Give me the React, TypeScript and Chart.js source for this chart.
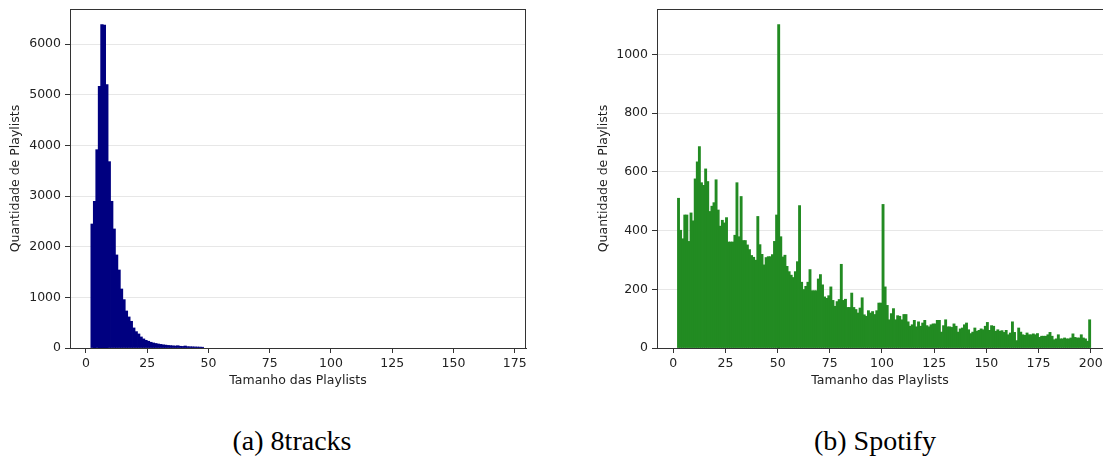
import React, { useEffect, useRef } from "react";
import { Chart, registerables } from "chart.js";

Chart.register(...registerables);

// ---------------- DATA ----------------
// 8tracks: playlist size bins start at 2, one bin per size
const tracksFirstSize = 2;
const tracksCounts = [
  2447, 2895, 3914, 5164, 6382, 6375, 5197, 3678, 2895, 2349,
  1836, 1539, 1164, 954, 730, 612, 526, 395, 322, 276,
  217, 178, 151, 132, 112, 98, 88, 78, 70, 62,
  56, 50, 46, 42, 38, 44, 33, 30, 38, 26,
  24, 22, 20, 18, 17, 14, 9, 8, 7, 6,
  5, 5, 4, 4, 3, 3, 3, 2, 2,
  2, 1, 2, 1, 1, 2, 1, 1, 0, 1,
  1, 1, 0, 1, 1, 0, 1, 1, 0, 1,
  0, 1, 1, 0, 0, 1, 0, 1, 0, 0,
  1, 0, 0, 1, 0, 0, 1, 0, 0, 0,
  1, 0, 0, 0, 1, 0, 0, 0, 0, 1,
  0, 0, 1, 0, 0, 0, 0, 1, 0, 0,
  0, 0, 1, 0, 0, 0, 0, 0, 1, 0,
  0, 0, 0, 0, 1, 0, 0, 0, 0, 0,
  0, 1, 0, 0, 0, 0, 0, 0, 0, 1,
  0, 0, 0, 0, 0, 0, 0, 0, 1, 0,
  0, 0, 0, 0, 0, 0, 0, 0, 0, 0,
  1,
];
const tracksXTicks = [0, 25, 50, 75, 100, 125, 150, 175];
const tracksYTicks = [0, 1000, 2000, 3000, 4000, 5000, 6000];

// Spotify: playlist size bins start at 2, one bin per size (2..199)
const spotifyFirstSize = 2;
const spotifyCounts = [
  510, 401, 372, 453, 453, 363, 460, 433, 576, 634,
  686, 563, 554, 610, 567, 465, 483, 495, 573, 470,
  415, 435, 426, 444, 361, 361, 361, 384, 563, 379,
  516, 366, 366, 351, 335, 315, 309, 299, 448, 352,
  319, 283, 308, 311, 311, 318, 363, 453, 1102, 379,
  310, 316, 278, 260, 248, 240, 260, 294, 485, 224,
  199, 210, 224, 267, 195, 195, 195, 235, 250, 215,
  174, 169, 178, 208, 162, 142, 158, 165, 285, 162,
  166, 138, 138, 187, 138, 131, 119, 136, 171, 113,
  108, 127, 119, 124, 114, 127, 153, 153, 489, 208,
  145, 96, 117, 134, 96, 110, 108, 96, 114, 114,
  89, 74, 79, 94, 72, 89, 74, 85, 94, 76,
  72, 79, 82, 82, 94, 94, 54, 76, 96, 72,
  72, 70, 82, 74, 54, 65, 68, 79, 85, 62,
  49, 54, 68, 57, 60, 65, 62, 74, 87, 60,
  76, 74, 57, 62, 57, 59, 53, 60, 45, 51,
  89, 53, 25, 68, 54, 45, 43, 51, 45, 45,
  48, 45, 49, 36, 40, 40, 40, 45, 53, 40,
  28, 31, 45, 31, 31, 34, 31, 31, 34, 48,
  36, 34, 34, 45, 34, 31, 23, 96,
];
const spotifyXTicks = [0, 25, 50, 75, 100, 125, 150, 175, 200];
const spotifyYTicks = [0, 200, 400, 600, 800, 1000];

const xTitle = "Tamanho das Playlists";
const yTitle = "Quantidade de Playlists";
const captionA = "(a) 8tracks";
const captionB = "(b) Spotify";

// ---------------- STYLE ----------------
const FONT = { family: "DejaVu Sans", size: 12.5 };
const TEXT = "#222222";
const SPINE = "#333333";
const GRID = "rgba(176,176,176,0.3)";

type Cfg = {
  counts: number[];
  first: number;
  xTicks: number[];
  yTicks: number[];
  color: string;
  xMin: number;
  xMax: number;
  yMax: number;
  yAxisWidth: number;
  yTitlePad: number;
  padRight: number;
  drawRightSpine: boolean;
};

const spinePlugin = (drawRight: boolean) => ({
  id: "spines",
  afterDraw(chart: any) {
    const { ctx, chartArea } = chart;
    const l = Math.round(chartArea.left) + 0.5;
    const r = Math.round(chartArea.right) - 0.5;
    const t = Math.round(chartArea.top) + 0.5;
    const b = Math.round(chartArea.bottom) + 0.5;
    ctx.save();
    ctx.strokeStyle = SPINE;
    ctx.lineWidth = 1;
    ctx.beginPath();
    ctx.moveTo(l, t);
    ctx.lineTo(chartArea.right, t);
    if (drawRight) {
      ctx.moveTo(r, t);
      ctx.lineTo(r, b);
    }
    ctx.stroke();
    ctx.restore();
  },
});

// bar pixel height (like raster snapping: sub-half-pixel bars are not painted)
const barPx = (c: any) => {
  const y = c.chart.scales.y;
  const v = c.raw ? c.raw.y : 0;
  return y.getPixelForValue(0) - y.getPixelForValue(v);
};

function Hist(props: { cfg: Cfg; left: number; width: number }) {
  const ref = useRef<HTMLCanvasElement | null>(null);
  const { cfg } = props;
  useEffect(() => {
    if (!ref.current) return;
    const points = cfg.counts.map((v, i) => ({ x: cfg.first + i + 0.5, y: v }));
    const chart = new Chart(ref.current, {
      type: "bar",
      data: {
        datasets: [
          {
            data: points as any,
            backgroundColor: (c: any) => (barPx(c) < 0.5 ? "rgba(0,0,0,0)" : cfg.color),
            borderWidth: 0,
            barPercentage: 1,
            categoryPercentage: 1,
            inflateAmount: (c: any) => (barPx(c) < 0.5 ? 0 : 0.4),
          } as any,
        ],
      },
      options: {
        animation: false,
        responsive: false,
        events: [],
        layout: { padding: { left: 0, top: 9, right: cfg.padRight, bottom: 0 } },
        plugins: { legend: { display: false }, tooltip: { enabled: false } },
        scales: {
          x: {
            type: "linear",
            min: cfg.xMin,
            max: cfg.xMax,
            offset: false,
            z: 1,
            afterBuildTicks(s: any) {
              s.ticks = cfg.xTicks.map((v) => ({ value: v }));
            },
            ticks: {
              autoSkip: false,
              maxRotation: 0,
              padding: 3,
              font: FONT,
              color: TEXT,
              callback: (v: any) => String(v),
            },
            grid: {
              drawOnChartArea: false,
              offset: false,
              tickLength: 5,
              tickColor: SPINE,
            },
            border: { display: true, color: SPINE, width: 1 },
            title: {
              display: true,
              text: xTitle,
              font: FONT,
              color: TEXT,
              padding: { top: 0, bottom: 11.5 },
            },
            afterFit(s: any) {
              s.height = 52;
              s.paddingLeft = 0;
              s.paddingRight = 0;
            },
          } as any,
          y: {
            type: "linear",
            min: 0,
            max: cfg.yMax,
            z: 1,
            afterBuildTicks(s: any) {
              s.ticks = cfg.yTicks.map((v) => ({ value: v }));
            },
            ticks: {
              autoSkip: false,
              padding: 4,
              font: FONT,
              color: TEXT,
              callback: (v: any) => String(v),
            },
            grid: {
              color: GRID,
              lineWidth: 1,
              tickLength: 5,
              tickColor: SPINE,
            },
            border: { display: true, color: SPINE, width: 1 },
            title: {
              display: true,
              text: yTitle,
              font: FONT,
              color: TEXT,
              padding: { top: cfg.yTitlePad, bottom: 0 },
            },
            afterFit(s: any) {
              s.width = cfg.yAxisWidth;
              s.paddingTop = 0;
              s.paddingBottom = 0;
            },
          } as any,
        },
      },
      plugins: [spinePlugin(cfg.drawRightSpine)],
    });
    return () => chart.destroy();
  }, []);
  return (
    <canvas
      ref={ref}
      width={props.width}
      height={400}
      style={{ position: "absolute", left: props.left, top: 0, width: props.width, height: 400, display: "block" }}
    />
  );
}

const tracksCfg: Cfg = {
  counts: tracksCounts,
  first: tracksFirstSize,
  xTicks: tracksXTicks,
  yTicks: tracksYTicks,
  color: "#000080",
  xMin: -6.53,
  xMax: 179.6,
  yMax: 6693,
  yAxisWidth: 70,
  yTitlePad: 8.5,
  padRight: 14,
  drawRightSpine: true,
};

const spotifyCfg: Cfg = {
  counts: spotifyCounts,
  first: spotifyFirstSize,
  xTicks: spotifyXTicks,
  yTicks: spotifyYTicks,
  color: "#228B22",
  xMin: -7.81,
  xMax: 205.9,
  yMax: 1155,
  yAxisWidth: 67,
  yTitlePad: 6.5,
  padRight: 0,
  drawRightSpine: false,
};

const captionStyle: React.CSSProperties = {
  position: "absolute",
  top: 426.5,
  fontFamily: "'Liberation Serif', serif",
  fontSize: 28,
  lineHeight: "28px",
  color: "#000",
  whiteSpace: "nowrap",
  transform: "translateX(-50%)",
};

export default function App() {
  return (
    <div style={{ position: "absolute", left: 0, top: 0, width: 1103, height: 456, overflow: "hidden", background: "#fff" }}>
      <Hist cfg={tracksCfg} left={0} width={540} />
      <Hist cfg={spotifyCfg} left={590} width={513} />
      <div style={{ ...captionStyle, left: 292 }}>{captionA}</div>
      <div style={{ ...captionStyle, left: 875 }}>{captionB}</div>
    </div>
  );
}
